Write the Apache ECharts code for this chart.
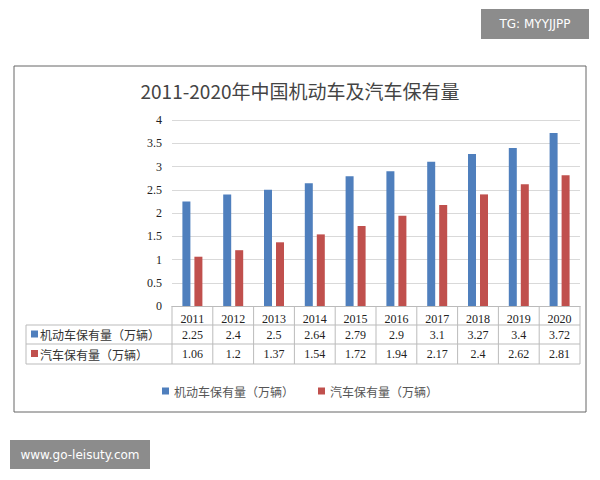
<!DOCTYPE html>
<html><head><meta charset="utf-8">
<script src="https://cdn.jsdelivr.net/npm/echarts@6/dist/echarts.min.js"></script>
<style>html,body{margin:0;background:#fff}#c{width:600px;height:480px}</style>
</head><body><div id="c"></div>
<script>
var years = ['2011','2012','2013','2014','2015','2016','2017','2018','2019','2020'];
var motor = [2.25, 2.4, 2.5, 2.64, 2.79, 2.9, 3.1, 3.27, 3.4, 3.72];
var cars = [1.06, 1.2, 1.37, 1.54, 1.72, 1.94, 2.17, 2.4, 2.62, 2.81];
var names = ['机动车保有量（万辆）', '汽车保有量（万辆）'];
var colors = ['#4f7fbd', '#c0504d'];
var font = '"Liberation Serif","Noto Sans CJK SC",serif';

var chart = echarts.init(document.getElementById('c'), null, { renderer: 'svg' });
var L = 172, R = 580, T = 120, B = 306;
chart.setOption({
  animation: false,
  textStyle: { fontFamily: font },
  title: { text: '2011-2020年中国机动车及汽车保有量', left: 'center', top: 76,
    textStyle: { fontSize: 19, fontWeight: 'normal', color: '#444', fontFamily: '"Noto Sans CJK SC",sans-serif' } },
  legend: { bottom: 78, itemWidth: 7, itemHeight: 7, itemGap: 24, icon: 'rect',
    textStyle: { fontSize: 12, color: '#555', fontFamily: '"Noto Sans CJK SC",sans-serif' }, data: names },
  grid: { left: L, right: 600 - R, top: T, bottom: 480 - B },
  xAxis: { type: 'category', data: years, axisTick: { show: false },
    axisLine: { lineStyle: { color: '#bbb' } }, axisLabel: { color: '#222', fontSize: 12, margin: 7 } },
  yAxis: { type: 'value', min: 0, max: 4, interval: 0.5, axisLine: { show: false }, axisTick: { show: false },
    axisLabel: { color: '#222', fontSize: 12, margin: 10 }, splitLine: { lineStyle: { color: '#d9d9d9' } } },
  series: [
    { name: names[0], type: 'bar', data: motor, barWidth: 8, barGap: '50%', itemStyle: { color: colors[0] } },
    { name: names[1], type: 'bar', data: cars, barWidth: 8, itemStyle: { color: colors[1] } }
  ]
});

var g = [];
var rows = [325, 344, 364];
var cw = (R - L) / years.length;
g.push({ type: 'rect', shape: { x: 14, y: 66, width: 572, height: 346 }, style: { fill: 'none', stroke: '#666', lineWidth: 1 } });
for (var i = 0; i <= years.length; i++) {
  var x = L + i * cw;
  g.push({ type: 'line', shape: { x1: x, y1: B, x2: x, y2: 364 }, style: { stroke: '#bbb' } });
}
g.push({ type: 'line', shape: { x1: 26, y1: 325, x2: 26, y2: 364 }, style: { stroke: '#bbb' } });
rows.forEach(function (y) {
  g.push({ type: 'line', shape: { x1: 26, y1: y, x2: R, y2: y }, style: { stroke: '#bbb' } });
});
[motor, cars].forEach(function (arr, r) {
  var cy = (rows[r] + rows[r + 1]) / 2;
  g.push({ type: 'rect', shape: { x: 31, y: cy - 4, width: 7, height: 7 }, style: { fill: colors[r] } });
  g.push({ type: 'text', x: 40, y: cy, style: { text: names[r], fill: '#333', font: '12px "Noto Sans CJK SC",sans-serif', textVerticalAlign: 'middle' } });
  arr.forEach(function (v, i) {
    var px = chart.convertToPixel({ xAxisIndex: 0 }, years[i]);
    g.push({ type: 'text', x: px, y: cy, style: { text: String(v), fill: '#222', font: '12px ' + font, textAlign: 'center', textVerticalAlign: 'middle' } });
  });
});
g.push({ type: 'rect', shape: { x: 481, y: 9, width: 108, height: 30 }, style: { fill: '#8c8c8c' } });
g.push({ type: 'text', x: 535, y: 24, style: { text: 'TG: MYYJJPP', fill: '#fff', font: '12px "DejaVu Sans",sans-serif', textAlign: 'center', textVerticalAlign: 'middle' } });
g.push({ type: 'rect', shape: { x: 10, y: 440, width: 140, height: 29 }, style: { fill: '#8c8c8c' } });
g.push({ type: 'text', x: 80, y: 455, style: { text: 'www.go-leisuty.com', fill: '#fff', font: '12px "DejaVu Sans",sans-serif', textAlign: 'center', textVerticalAlign: 'middle' } });
chart.setOption({ graphic: g });
</script></body></html>
